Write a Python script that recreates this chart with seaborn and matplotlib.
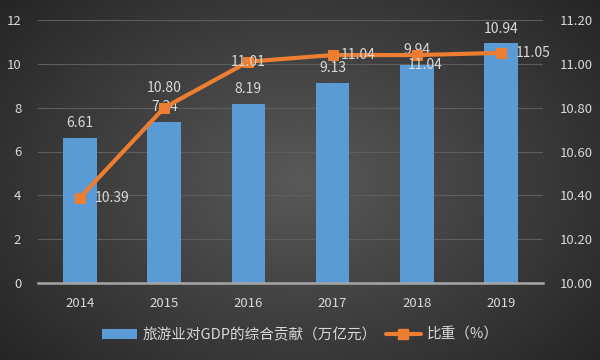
import numpy as np
import pandas as pd
import matplotlib
matplotlib.use("Agg")
import matplotlib.pyplot as plt
import seaborn as sns
from matplotlib.lines import Line2D
from matplotlib.patches import Patch

years = ["2014", "2015", "2016", "2017", "2018", "2019"]
contribution = [6.61, 7.34, 8.19, 9.13, 9.94, 10.94]
share = [10.39, 10.80, 11.01, 11.04, 11.04, 11.05]
bar_label = "旅游业对GDP的综合贡献（万亿元）"
line_label = "比重（%）"

sns.set_theme(style="dark")
plt.rcParams["font.family"] = ["Noto Sans CJK SC", "DejaVu Sans"]

txt = "#d9d9d9"
bar_color = "#5b9bd5"
line_color = "#ed7d31"

fig = plt.figure(figsize=(6, 3.6), dpi=100)

# radial gradient background
bg = fig.add_axes([0, 0, 1, 1], zorder=-10)
yy, xx = np.mgrid[0:360, 0:600]
r = np.sqrt(((xx - 300) / 420) ** 2 + ((yy - 180) / 300) ** 2)
val = np.clip(0.35 - 0.22 * r, 0.12, 0.4)
bg.imshow(np.dstack([val, val, val]), extent=[0, 1, 0, 1], aspect="auto")
bg.axis("off")

ax = fig.add_axes([38 / 600, 1 - 283 / 360, (543 - 38) / 600, (283 - 20) / 360])
ax.set_facecolor("none")

df = pd.DataFrame({"year": years, "contribution": contribution, "share": share})
sns.barplot(data=df, x="year", y="contribution", color=bar_color, width=0.4,
            saturation=1, ax=ax, zorder=2, edgecolor="none", linewidth=0)
ax.set_xlim(-0.5, 5.5)
ax.set_ylim(0, 12)
ax.set_yticks(range(0, 13, 2))
ax.set_xlabel("")
ax.set_ylabel("")
ax.grid(axis="y", color="#5e5e5e", linewidth=0.8)
ax.grid(axis="x", visible=False)
for s in ["top", "right", "left"]:
    ax.spines[s].set_visible(False)
ax.spines["bottom"].set_color("#a6a6a6")
ax.spines["bottom"].set_linewidth(1.8)
ax.tick_params(axis="both", colors=txt, labelsize=9.5, length=0, pad=10)
ax.tick_params(axis="y", pad=12)

for i, v in enumerate(contribution):
    ax.text(i, v + 0.35, f"{v:.2f}", ha="center", va="bottom", color=txt, fontsize=10,
            zorder=5)

ax2 = ax.twinx()
ax2.set_facecolor("none")
sns.lineplot(x=list(range(len(years))), y=share, ax=ax2, color=line_color, linewidth=3,
             marker="s", markersize=6.5, markeredgecolor=line_color, zorder=4)
ax2.set_ylim(10.0, 11.2)
ax2.set_yticks(np.arange(10.0, 11.21, 0.2))
ax2.set_yticklabels([f"{t:.2f}" for t in np.arange(10.0, 11.21, 0.2)])
ax2.set_xlim(-0.5, 5.5)
ax2.grid(False)
for s in ax2.spines.values():
    s.set_visible(False)
ax2.tick_params(axis="y", colors=txt, labelsize=9.5, length=0, pad=12)

offsets = [(0.38, 0.0), (0.0, 0.09), (0.0, 0.0), (0.3, 0.0), (0.1, -0.045), (0.38, 0.0)]
for i, v in enumerate(share):
    dx, dy = offsets[i]
    ax2.text(i + dx, v + dy, f"{v:.2f}", ha="center", va="center", color=txt, fontsize=10,
             zorder=6)

handles = [Patch(facecolor=bar_color, edgecolor="none"),
           Line2D([0], [0], color=line_color, linewidth=3, marker="s", markersize=6.5)]
leg = fig.legend(handles, [bar_label, line_label], loc="center",
                 bbox_to_anchor=(0.5, 1 - 335 / 360),
                 ncol=2, frameon=False, fontsize=10.5, handlelength=2.4, columnspacing=0.6,
                 handletextpad=0.4)
for t in leg.get_texts():
    t.set_color(txt)

fig.savefig("out.png", dpi=100)
